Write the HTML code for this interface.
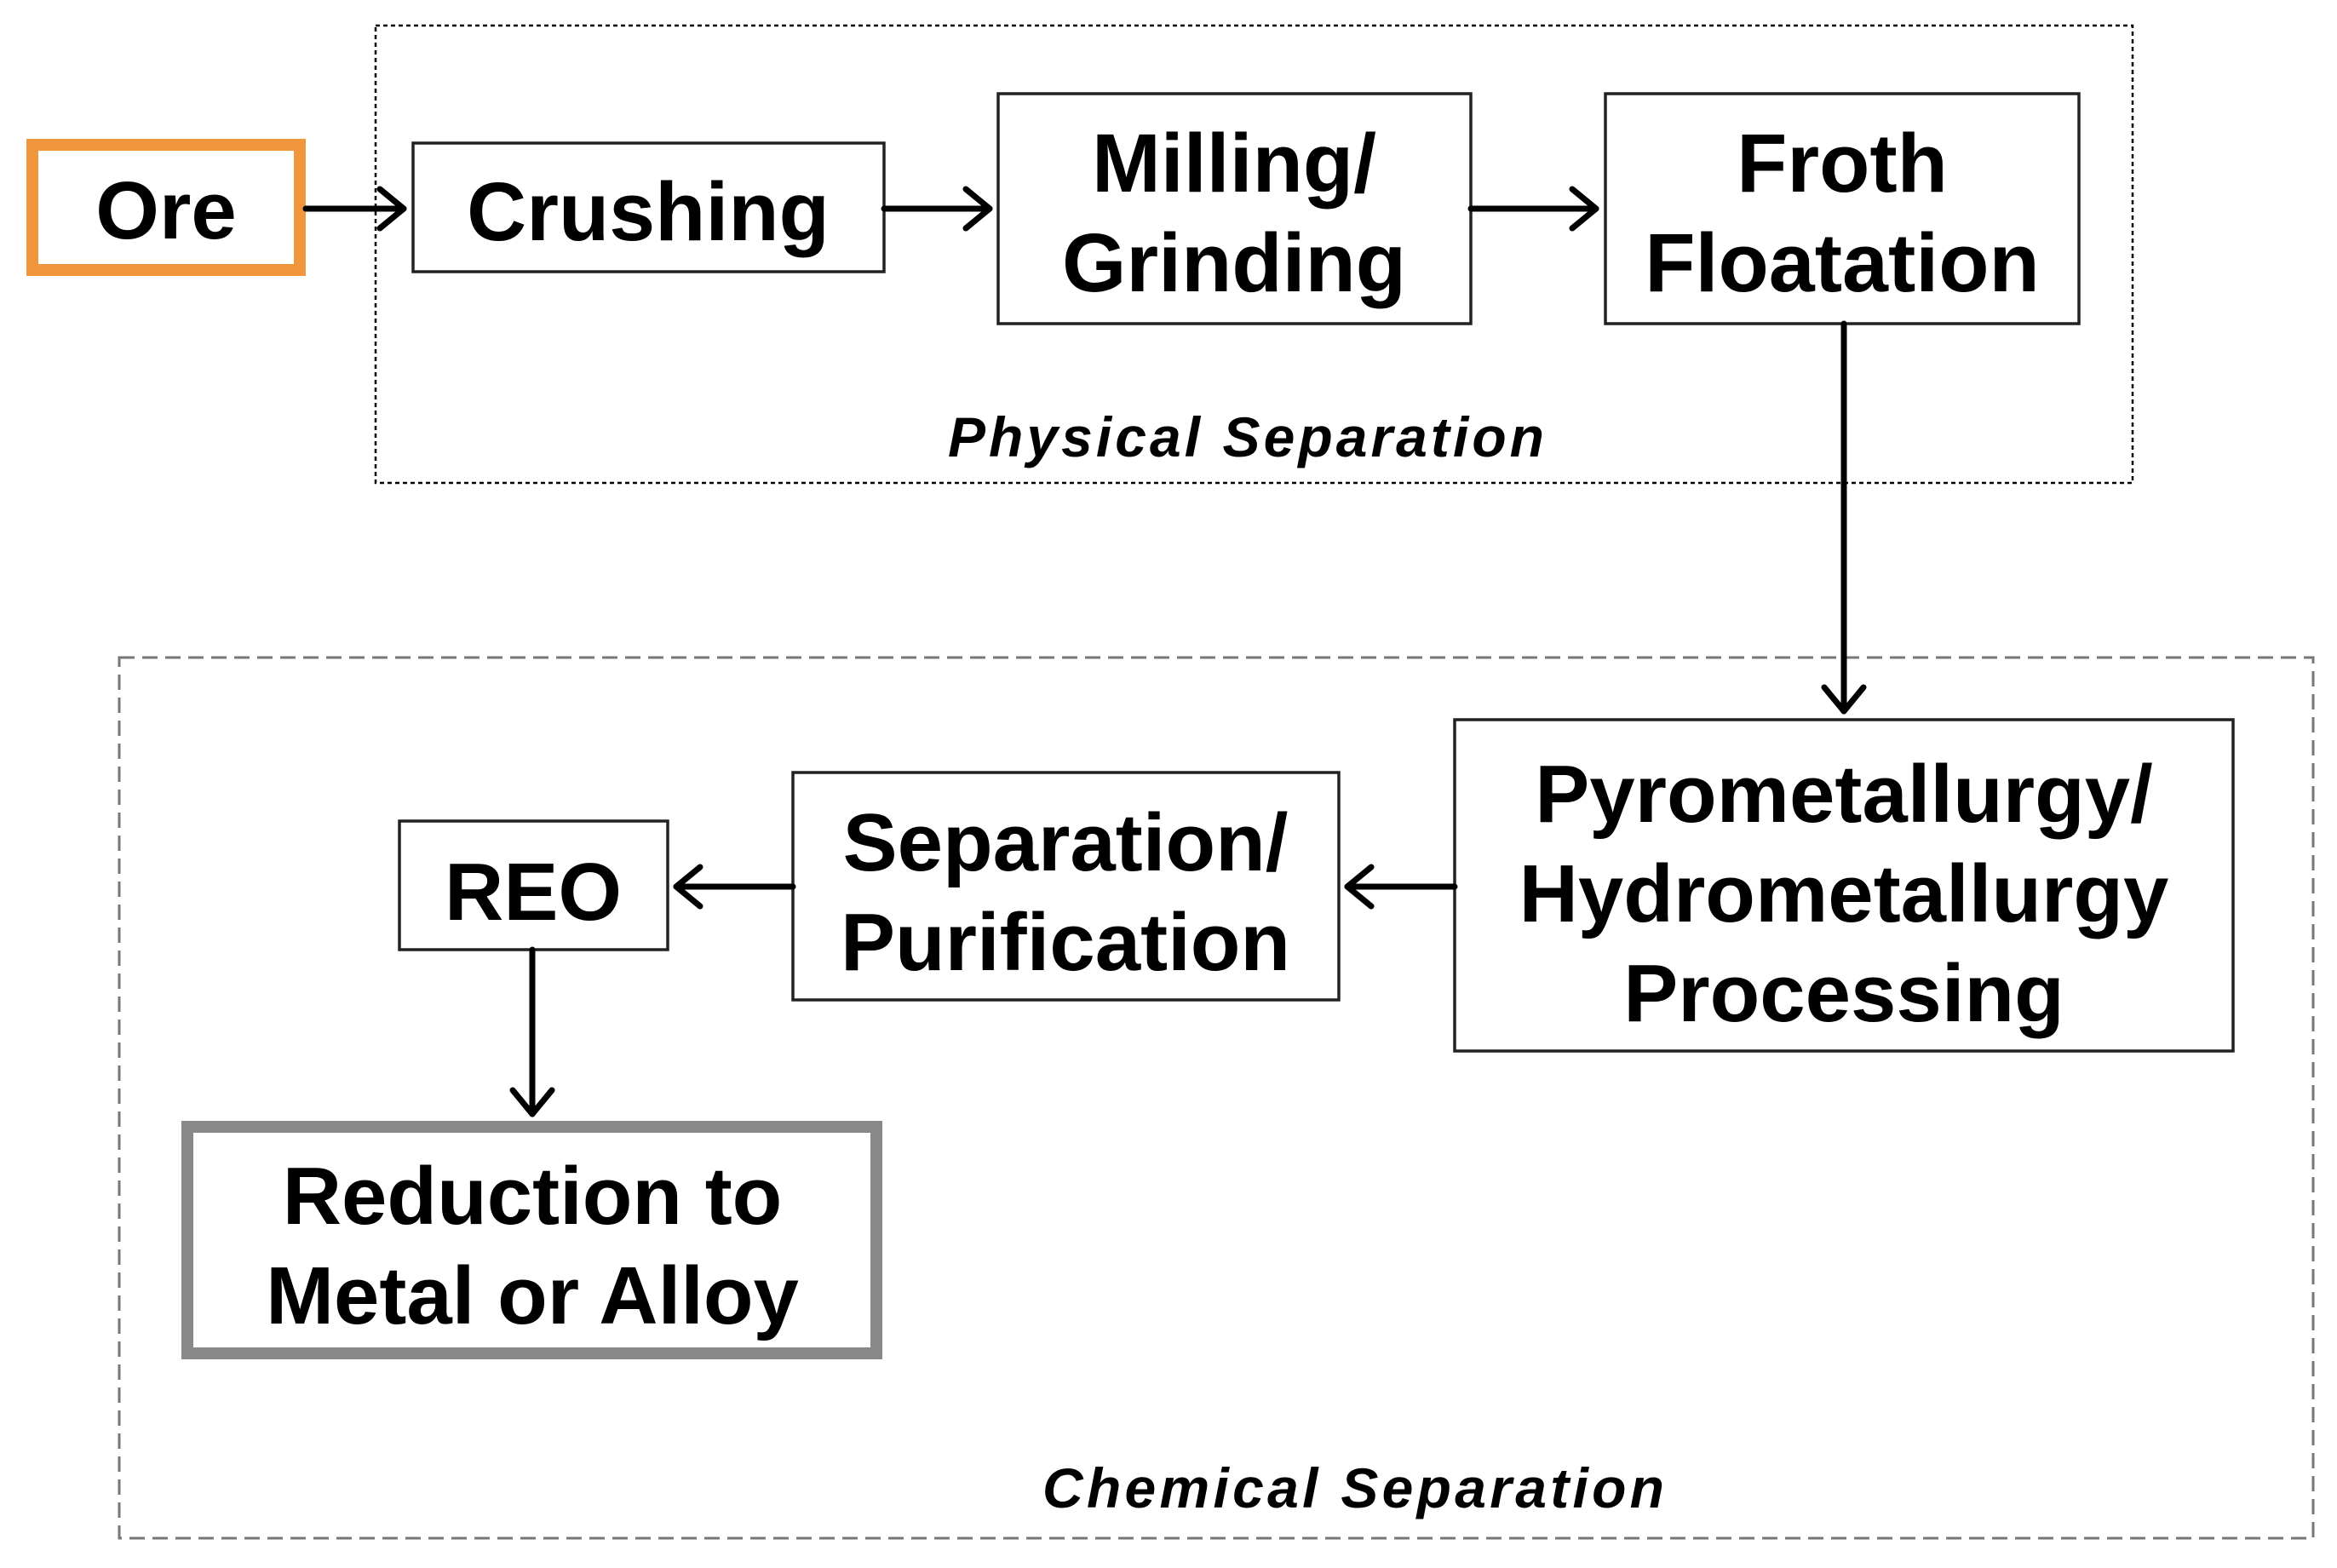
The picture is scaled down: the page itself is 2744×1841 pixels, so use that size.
<!DOCTYPE html>
<html><head><meta charset="utf-8"><style>
html,body{margin:0;padding:0;background:#fff;}
svg{display:block;}
text{font-family:"Liberation Sans",Arial,sans-serif;font-weight:bold;fill:#000;}
</style></head><body>
<svg width="2744" height="1841" viewBox="0 0 2744 1841" xmlns="http://www.w3.org/2000/svg">
<rect x="441" y="30" width="2063" height="537" fill="none" stroke="#000" stroke-width="2.5" stroke-dasharray="5,4"/>
<rect x="140" y="772" width="2576" height="1034" fill="none" stroke="#777" stroke-width="3" stroke-dasharray="18,9"/>
<text x="1463" y="536" font-size="66" font-style="italic" text-anchor="middle" textLength="700" lengthAdjust="spacing">Physical Separation</text>
<text x="1589" y="1770" font-size="66" font-style="italic" text-anchor="middle" textLength="730" lengthAdjust="spacing">Chemical Separation</text>
<rect x="38" y="170" width="314" height="147" fill="#fff" stroke="#f0963c" stroke-width="14"/>
<text x="195" y="280" font-size="96" text-anchor="middle">Ore</text>
<rect x="485" y="168" width="553" height="151" fill="#fff" stroke="#222" stroke-width="3.5"/>
<text x="761" y="282" font-size="97" text-anchor="middle">Crushing</text>
<rect x="1172" y="110" width="555" height="270" fill="#fff" stroke="#222" stroke-width="3.5"/>
<text x="1449" y="225" font-size="97" text-anchor="middle">Milling/</text>
<text x="1449" y="342" font-size="97" text-anchor="middle">Grinding</text>
<rect x="1885" y="110" width="556" height="270" fill="#fff" stroke="#222" stroke-width="3.5"/>
<text x="2163" y="225" font-size="97" text-anchor="middle">Froth</text>
<text x="2163" y="342" font-size="97" text-anchor="middle">Floatation</text>
<rect x="1708" y="845" width="914" height="389" fill="#fff" stroke="#222" stroke-width="3.5"/>
<text x="2165" y="965" font-size="96" text-anchor="middle">Pyrometallurgy/</text>
<text x="2165" y="1082" font-size="96" text-anchor="middle">Hydrometallurgy</text>
<text x="2165" y="1199" font-size="96" text-anchor="middle">Processing</text>
<rect x="931" y="907" width="641" height="267" fill="#fff" stroke="#222" stroke-width="3.5"/>
<text x="1251" y="1022" font-size="96" text-anchor="middle">Separation/</text>
<text x="1251" y="1139" font-size="96" text-anchor="middle">Purification</text>
<rect x="469" y="964" width="315" height="151" fill="#fff" stroke="#222" stroke-width="3.5"/>
<text x="626" y="1080" font-size="96" text-anchor="middle">REO</text>
<rect x="220" y="1323" width="809" height="266" fill="#fff" stroke="#888" stroke-width="14"/>
<text x="625" y="1437" font-size="96" text-anchor="middle">Reduction to</text>
<text x="625" y="1554" font-size="96" text-anchor="middle">Metal or Alloy</text>
<g stroke="#000" stroke-width="7" fill="none" stroke-linecap="round" stroke-linejoin="round">
<line x1="359" y1="245" x2="474" y2="245"/><polyline points="446,222 474,245 446,268"/>
<line x1="1038" y1="245" x2="1162" y2="245"/><polyline points="1134,222 1162,245 1134,268"/>
<line x1="1727" y1="245" x2="1874" y2="245"/><polyline points="1846,222 1874,245 1846,268"/>
<line x1="2165" y1="380" x2="2165" y2="835"/><polyline points="2142,807 2165,835 2188,807"/>
<line x1="1708" y1="1041" x2="1582" y2="1041"/><polyline points="1610,1018 1582,1041 1610,1064"/>
<line x1="931" y1="1041" x2="794" y2="1041"/><polyline points="822,1018 794,1041 822,1064"/>
<line x1="625" y1="1115" x2="625" y2="1308"/><polyline points="602,1280 625,1308 648,1280"/>
</g>
</svg>
</body></html>
